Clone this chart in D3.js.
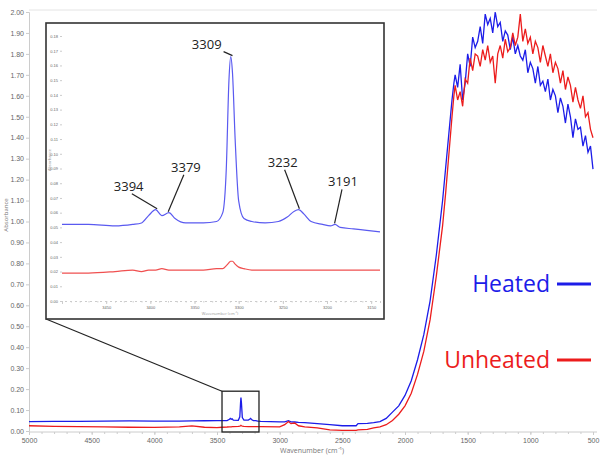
<!DOCTYPE html>
<html>
<head>
<meta charset="utf-8">
<style>
  body { margin: 0; background: #fff; font-family: "Open Sans", sans-serif; }
  .axis text { fill: #666; }
  .axis path, .axis line { stroke: #ccc; }
</style>
<script src="https://d3js.org/d3.v7.min.js"></script>
</head>
<body>
<script>
// ---- main spectrum: wavenumber (cm-1) and absorbance ----
const wn = [5000, 4800, 4600, 4400, 4200, 4000, 3800, 3700, 3600, 3500, 3460, 3420, 3400, 3394, 3386, 3379, 3370,
  3330, 3318, 3312, 3309, 3305, 3298, 3285, 3250, 3240, 3232, 3225, 3210, 3191, 3175, 3150, 3000, 2960, 2930,
  2910, 2880, 2850, 2800, 2700, 2600, 2500, 2390, 2375, 2300, 2250, 2200, 2150, 2100, 2050, 2000, 1950, 1900,
  1850, 1800, 1750, 1700, 1675, 1650, 1625, 1610,
  1600, 1580, 1560, 1540, 1520, 1500, 1480, 1460, 1440, 1420, 1400, 1380, 1360, 1340, 1320, 1300, 1280, 1260,
  1240, 1220, 1200, 1180, 1160, 1140, 1120, 1100, 1080, 1060, 1040, 1020, 1000, 980, 960, 940, 920, 900, 880,
  860, 840, 820, 800, 780, 760, 740, 720, 700, 680, 660, 640, 620, 600, 580, 560, 540, 520, 500];

const heated = [0.045, 0.046, 0.046, 0.047, 0.048, 0.047, 0.047, 0.048, 0.049, 0.050, 0.050, 0.050, 0.056, 0.060, 0.056, 0.058, 0.052,
  0.051, 0.068, 0.135, 0.160, 0.135, 0.064, 0.052, 0.052, 0.056, 0.060, 0.055, 0.050, 0.050, 0.047, 0.046, 0.044, 0.044, 0.049,
  0.044, 0.043, 0.041, 0.040, 0.035, 0.030, 0.025, 0.025, 0.035, 0.036, 0.040, 0.045, 0.060, 0.090, 0.120, 0.170, 0.240, 0.340,
  0.460, 0.620, 0.840, 1.100, 1.260, 1.420, 1.580, 1.660,
  1.700, 1.640, 1.750, 1.580, 1.660, 1.800, 1.740, 1.880, 1.830, 1.860, 1.930, 1.850, 1.990, 1.940, 1.970, 1.900, 2.000, 1.930,
  1.950, 1.860, 1.910, 1.890, 1.820, 1.880, 1.800, 1.840, 1.790, 1.770, 1.820, 1.710, 1.760, 1.730, 1.660, 1.740, 1.650, 1.670, 1.620,
  1.680, 1.580, 1.630, 1.600, 1.520, 1.590, 1.550, 1.470, 1.560, 1.500, 1.400, 1.490, 1.440, 1.450, 1.360, 1.410, 1.330, 1.360, 1.250];

const unheated = [0.025, 0.022, 0.021, 0.020, 0.018, 0.017, 0.020, 0.024, 0.018, 0.016, 0.018, 0.019, 0.020, 0.020, 0.020, 0.021, 0.021,
  0.022, 0.023, 0.025, 0.027, 0.025, 0.023, 0.022, 0.021, 0.021, 0.021, 0.021, 0.021, 0.021, 0.021, 0.021, 0.020, 0.030, 0.045,
  0.035, 0.038, 0.025, 0.020, 0.015, 0.005, 0.003, 0.003, 0.005, 0.008, 0.015, 0.020, 0.030, 0.050, 0.080, 0.120, 0.180, 0.270,
  0.380, 0.530, 0.740, 0.980, 1.140, 1.320, 1.500, 1.600,
  1.650, 1.580, 1.620, 1.550, 1.680, 1.660, 1.780, 1.720, 1.800, 1.790, 1.740, 1.820, 1.770, 1.840, 1.760, 1.790, 1.660, 1.800,
  1.840, 1.780, 1.870, 1.810, 1.830, 1.900, 1.840, 1.880, 1.990, 1.860, 1.920, 1.850, 1.880, 1.800, 1.860, 1.830, 1.760, 1.840, 1.790,
  1.740, 1.800, 1.710, 1.760, 1.730, 1.660, 1.720, 1.630, 1.690, 1.650, 1.570, 1.640, 1.580, 1.540, 1.600, 1.500, 1.520, 1.440, 1.400];

// ---- inset (3500-3140 cm-1 detail) ----
const insetWn = [3500, 3470, 3440, 3420, 3410, 3402, 3394, 3387, 3379, 3372, 3360, 3340, 3325, 3318, 3314, 3311, 3309, 3307,
  3304, 3300, 3294, 3285, 3270, 3255, 3245, 3237, 3232, 3226, 3218, 3205, 3196, 3191, 3185, 3170, 3155, 3140];
const insetHeated = [0.052, 0.052, 0.051, 0.052, 0.053, 0.058, 0.062, 0.058, 0.060, 0.056, 0.053, 0.053, 0.054, 0.060, 0.090, 0.150, 0.166, 0.155,
  0.110, 0.068, 0.056, 0.054, 0.053, 0.054, 0.057, 0.061, 0.062, 0.059, 0.054, 0.052, 0.051, 0.052, 0.050, 0.049, 0.048, 0.047];
const insetUnheated = [0.019, 0.019, 0.020, 0.021, 0.020, 0.021, 0.021, 0.022, 0.021, 0.021, 0.021, 0.021, 0.022, 0.022, 0.024, 0.026, 0.027, 0.027,
  0.025, 0.023, 0.022, 0.021, 0.021, 0.021, 0.021, 0.021, 0.021, 0.021, 0.021, 0.021, 0.021, 0.021, 0.021, 0.021, 0.021, 0.021];
const peakLabels = ["3394", "3379", "3309", "3232", "3191"];
const peakWn = [3394, 3379, 3309, 3232, 3191];
const peakVal = [0.062, 0.060, 0.166, 0.062, 0.052];

const zoomWindow = [3460, 3165];
const zoomAbs = [0, 0.19];
const seriesNames = ["Heated", "Unheated"];
const seriesColors = ["#1c1ce8", "#ec1c1c"];

const W = 600, H = 456;
const svg = d3.select("body").append("svg").attr("width", W).attr("height", H);

const x = d3.scaleLinear().domain([5000, 500]).range([29, 593]);
const y = d3.scaleLinear().domain([0, 2]).range([431, 12]);

// frame top line
svg.append("line").attr("x1", 29).attr("x2", 597).attr("y1", 10).attr("y2", 10)
  .attr("stroke", "#e4e4e4");

const yAxis = svg.append("g").attr("class", "axis")
  .attr("transform", "translate(29,0)")
  .call(d3.axisLeft(y).tickValues(d3.range(0, 2.001, 0.1)).tickFormat(d3.format(".2f")).tickSize(3).tickPadding(2));
yAxis.selectAll("text").style("font-size", "7px");

const xAxis = svg.append("g").attr("class", "axis")
  .attr("transform", "translate(0,432)")
  .call(d3.axisBottom(x).tickValues(d3.range(5000, 499, -500)).tickFormat(d3.format("d")).tickSize(3).tickPadding(3));
xAxis.selectAll("text").style("font-size", "7px");
xAxis.select(".domain").attr("d", "M29,0H597");
svg.append("g").attr("class", "axis")
  .attr("transform", "translate(0,432)")
  .call(d3.axisBottom(x).tickValues(d3.range(5000, 499, -100)).tickFormat("").tickSize(2))
  .select(".domain").remove();

svg.append("text").attr("x", 312).attr("y", 453).attr("text-anchor", "middle")
  .style("font-size", "7px").attr("fill", "#777").text("Wavenumber (cm\u207B\u00B9)");
svg.append("text").attr("transform", "translate(8,215) rotate(-90)").attr("text-anchor", "middle")
  .style("font-size", "6px").attr("fill", "#777").text("Absorbance");

const line = d3.line().x(d => x(d[0])).y(d => y(d[1]));
[heated, unheated].forEach((s, i) => {
  svg.append("path").datum(wn.map((w, j) => [w, s[j]]))
    .attr("fill", "none").attr("stroke", seriesColors[i]).attr("stroke-width", 1.3)
    .attr("d", line);
});

// zoom box on main chart
svg.append("rect")
  .attr("x", x(zoomWindow[0])).attr("y", y(zoomAbs[1]))
  .attr("width", x(zoomWindow[1]) - x(zoomWindow[0])).attr("height", y(zoomAbs[0]) - y(zoomAbs[1]) + 1)
  .attr("fill", "none").attr("stroke", "#222").attr("stroke-width", 1.3);

// inset
const inset = { left: 46, top: 23, right: 384, bottom: 319 };
svg.append("line")
  .attr("x1", inset.left).attr("y1", inset.bottom)
  .attr("x2", x(zoomWindow[0])).attr("y2", y(zoomAbs[1]))
  .attr("stroke", "#222").attr("stroke-width", 1.2);
svg.append("rect").attr("x", inset.left).attr("y", inset.top)
  .attr("width", inset.right - inset.left).attr("height", inset.bottom - inset.top)
  .attr("fill", "#fff").attr("stroke", "#333").attr("stroke-width", 1.6);

const ix = d3.scaleLinear().domain([3500, 3140]).range([62, 380]);
const iy = d3.scaleLinear().domain([0, 0.18]).range([301, 36]);

const iyAxis = svg.append("g").attr("class", "axis")
  .attr("transform", "translate(62,0)")
  .call(d3.axisLeft(iy).tickValues(d3.range(0, 0.1801, 0.01)).tickFormat(d3.format(".2f")).tickSize(2).tickPadding(2));
iyAxis.selectAll("text").style("font-size", "4px").attr("fill", "#999");
iyAxis.select(".domain").remove();

const ixAxis = svg.append("g").attr("class", "axis")
  .attr("transform", "translate(0,301)")
  .call(d3.axisBottom(ix).tickValues(d3.range(3450, 3140, -50)).tickFormat(d3.format("d")).tickSize(3).tickPadding(2));
ixAxis.selectAll("text").style("font-size", "4px").attr("fill", "#999");
ixAxis.select(".domain").attr("stroke-dasharray", "2,3");
svg.append("g").attr("class", "axis")
  .attr("transform", "translate(0,301)")
  .call(d3.axisBottom(ix).tickValues(d3.range(3500, 3139, -10)).tickFormat("").tickSize(1.5))
  .select(".domain").remove();

svg.append("text").attr("x", 220).attr("y", 315).attr("text-anchor", "middle")
  .style("font-size", "4px").attr("fill", "#999").text("Wavenumber (cm\u207B\u00B9)");
svg.append("text").attr("transform", "translate(51,160) rotate(-90)").attr("text-anchor", "middle")
  .style("font-size", "4px").attr("fill", "#999").text("Absorbance");

const iline = d3.line().curve(d3.curveMonotoneX).x(d => ix(d[0])).y(d => iy(d[1]));
svg.append("path").datum(insetWn.map((w, j) => [w, insetHeated[j]]))
  .attr("fill", "none").attr("stroke", "#5a5af0").attr("stroke-width", 1.2).attr("d", iline);
svg.append("path").datum(insetWn.map((w, j) => [w, insetUnheated[j]]))
  .attr("fill", "none").attr("stroke", "#f05050").attr("stroke-width", 1.2).attr("d", iline);

// peak annotations: label offset (dx, dy) from the peak point
const labelOffset = [[-27, -24], [17, -46], [-24, -13], [-16, -48], [8, -43]];
peakLabels.forEach((lab, i) => {
  const px = ix(peakWn[i]), py = iy(peakVal[i]);
  const tx = px + labelOffset[i][0], ty = py + labelOffset[i][1];
  const dxl = labelOffset[i][0], dyl = labelOffset[i][1];
  const len = Math.hypot(dxl, dyl);
  svg.append("line")
    .attr("x1", px - dxl / len * 2).attr("y1", py - 1)
    .attr("x2", tx + (px - tx) * 0.12 + (i === 2 ? 14 : 0)).attr("y2", ty + 8)
    .attr("stroke", "#222").attr("stroke-width", 1.2);
  svg.append("text").attr("x", tx).attr("y", ty + 5).attr("text-anchor", "middle")
    .style("font-size", "13px").attr("fill", "#222").text(lab);
});

// legend
const legendY = [284, 360];
seriesNames.forEach((n, i) => {
  svg.append("text").attr("x", 550).attr("y", legendY[i] + 8).attr("text-anchor", "end")
    .style("font-size", "23px").attr("fill", seriesColors[i]).text(n);
  svg.append("line").attr("x1", 557).attr("x2", 591).attr("y1", legendY[i]).attr("y2", legendY[i])
    .attr("stroke", seriesColors[i]).attr("stroke-width", 3);
});
</script>
</body>
</html>
